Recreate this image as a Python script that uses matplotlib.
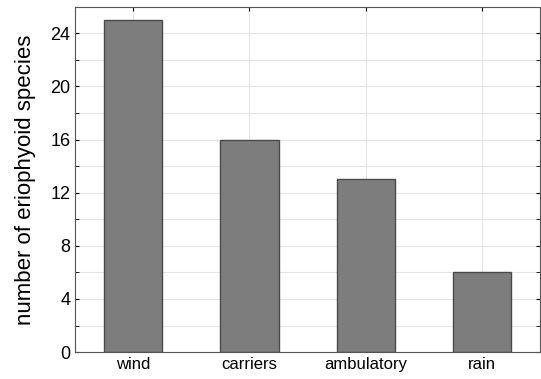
import matplotlib
matplotlib.use("Agg")
from matplotlib import pyplot as plt
from matplotlib.ticker import MultipleLocator

categorias = ["wind", "carriers", "ambulatory", "rain"]
especies = [25, 16, 13, 6]

plt.rcParams['font.family'] = ['Liberation Sans', 'DejaVu Sans']

fig = plt.figure(figsize=(5.41, 3.79), dpi=100)
ax = fig.add_axes([0.139, 0.071, 0.859, 0.911])

x = range(len(categorias))
ax.bar(x, especies, width=0.5, color="#7d7d7d", edgecolor="#4a4a4a", linewidth=1, zorder=3)

ax.set_xlim(-0.5, 3.5)
ax.set_ylim(0, 26)
ax.set_xticks(list(x))
ax.set_xticklabels(categorias, fontsize=12)
ax.yaxis.set_major_locator(MultipleLocator(4))
ax.yaxis.set_minor_locator(MultipleLocator(2))
ax.tick_params(axis="y", labelsize=13, direction="in", which="both", right=True, length=3)
ax.tick_params(axis="x", direction="in", top=True, length=3)
ax.grid(True, which="both", axis="y", color="#e4e4e4", linewidth=0.8, zorder=0)
ax.grid(True, axis="x", color="#e4e4e4", linewidth=0.8, zorder=0)
ax.set_ylabel("number of eriophyoid species", fontsize=16, labelpad=10)
for s in ax.spines.values():
    s.set_color("#555555")

fig.savefig("out.png", dpi=100)
